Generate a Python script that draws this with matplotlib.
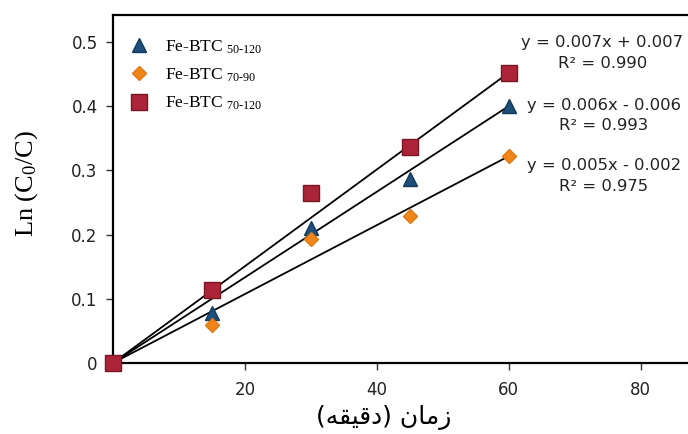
import numpy as np
import matplotlib
matplotlib.use("Agg")
import matplotlib.pyplot as plt
from matplotlib.lines import Line2D

plt.rcParams['mathtext.fontset'] = 'custom'
plt.rcParams['mathtext.rm'] = 'Liberation Serif'
plt.rcParams['mathtext.it'] = 'Liberation Serif'

# ---- data ----
time_min = [0, 15, 30, 45, 60]
fe_50_120 = [0, 0.078, 0.211, 0.286, 0.400]
fe_70_90 = [0, 0.059, 0.193, 0.229, 0.322]
fe_70_120 = [0, 0.114, 0.265, 0.336, 0.452]

labels = ["Fe-BTC $_{50\u2010120}$", "Fe-BTC $_{70\u201090}$", "Fe-BTC $_{70\u2010120}$"]
equations = ["y = 0.006x - 0.006\nR\u00b2 = 0.993",
             "y = 0.005x - 0.002\nR\u00b2 = 0.975",
             "y = 0.007x + 0.007\nR\u00b2 = 0.990"]
x_ticks = [20, 40, 60, 80]
y_ticks = [0, 0.1, 0.2, 0.3, 0.4, 0.5]
y_tick_labels = ["0", "0.1", "0.2", "0.3", "0.4", "0.5"]
# visual-order Persian label: "زمان (دقیقه)"
xlabel_text = "(\ufeea\ufed8\ufef4\ufed7\ufea9) \ufee5\ufe8e\ufee3\ufeaf"
ylabel_text = "Ln (C$_0$/C)"

series = [fe_50_120, fe_70_90, fe_70_120]
colors = ["#1d4f7a", "#f0861a", "#ac2438"]
edges = ["#123a5c", "#e07a10", "#7a1526"]
markers = ["^", "D", "s"]
msizes = [10, 7, 11]

fig = plt.figure(figsize=(6.88, 4.34), dpi=100)
ax = fig.add_axes([0.1642, 0.1636, 0.8358, 0.8018])

x = np.array(time_min, dtype=float)
for ys in series:
    ys = np.array(ys)
    ax.plot([x[0], x[-1]], [ys[0], ys[-1]], color="black", lw=1.3, zorder=2)

handles = []
for ys, c, e, m, ms, lab in zip(series, colors, edges, markers, msizes, labels):
    ax.plot(x, ys, linestyle="none", marker=m, markersize=ms, markerfacecolor=c,
            markeredgecolor=e, markeredgewidth=1.0, zorder=3, clip_on=False)
    handles.append(Line2D([], [], linestyle="none", marker=m, markersize=ms,
                          markerfacecolor=c, markeredgecolor=e, label=lab))

ax.set_xlim(0, 87.2)
ax.set_ylim(0, 0.542)
ax.set_xticks(x_ticks)
ax.set_yticks(y_ticks)
ax.set_yticklabels(y_tick_labels)
ax.tick_params(axis="both", direction="out", length=5, width=1, color="#333333",
               labelsize=12, labelcolor="#222222", pad=6)
ax.tick_params(axis="x", pad=8)
for s in ["left", "bottom", "top"]:
    ax.spines[s].set_linewidth(1.6)
    ax.spines[s].set_color("black")
ax.spines["right"].set_visible(False)

# equations
eq_x = [74.4, 74.4, 74.2]
eq_y = [0.3855, 0.291, 0.483]
for ex, ey, txt in zip(eq_x, eq_y, equations):
    ax.text(ex, ey, txt, ha="center", va="center", fontsize=11.8,
            color="#222222", linespacing=1.45, clip_on=False)

leg = ax.legend(handles=handles, loc="upper left", bbox_to_anchor=(0.0, 0.978),
                frameon=False, prop={"family": "Liberation Serif", "size": 12.5},
                handletextpad=0.9, labelspacing=0.62, borderaxespad=0.5,
                handlelength=1.2)

ax.set_ylabel(ylabel_text, fontfamily="Liberation Serif", fontsize=19)
ax.yaxis.set_label_coords(-0.127, 0.517)
fig.text(0.558, 0.038, xlabel_text, ha="center", va="center",
         fontfamily="DejaVu Sans", fontsize=18)

fig.savefig("out.png", dpi=100)
